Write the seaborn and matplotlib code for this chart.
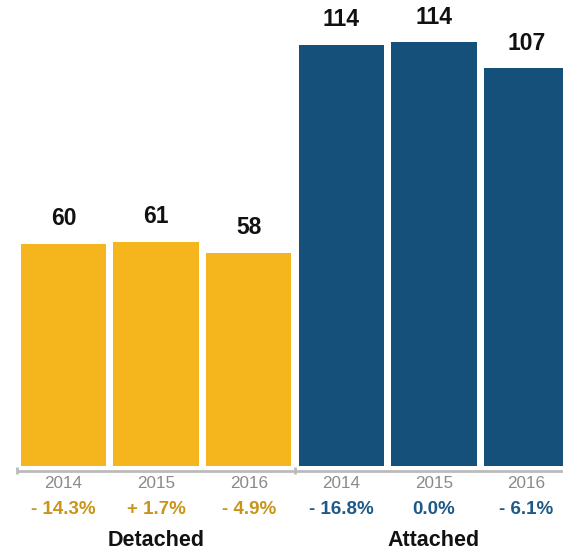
import numpy as np
import pandas as pd
import matplotlib
matplotlib.use("Agg")
import matplotlib.pyplot as plt
import seaborn as sns

# datos
groups = ["Detached", "Detached", "Detached", "Attached", "Attached", "Attached"]
years = ["2014", "2015", "2016", "2014", "2015", "2016"]
values = [60.0, 60.5, 57.6, 113.7, 114.4, 107.4]
value_labels = ["60", "61", "58", "114", "114", "107"]
changes = ["- 14.3%", "+ 1.7%", "- 4.9%", "- 16.8%", "0.0%", "- 6.1%"]
group_names = ["Detached", "Attached"]

bar_colors = {"Detached": "#F4B61C", "Attached": "#15507A"}
text_colors = {"Detached": "#C8951A", "Attached": "#1E5A87"}

df = pd.DataFrame({"key": [f"{g} {y}" for g, y in zip(groups, years)],
                   "group": groups, "year": years, "value": values})

sns.set_style("white")
plt.rcParams['font.family'] = ['Liberation Sans', 'DejaVu Sans']

W, H = 563, 554
fig = plt.figure(figsize=(W / 100, H / 100), dpi=100)
ax = fig.add_axes([0, 0, 1, 1])

# escala en píxeles
px_per_unit = 3.705
base_px = 466          # línea base (desde arriba)
x0_px, step_px = 63.5, 92.6

def xd(px):
    return (px - x0_px) / step_px

def yd(py):
    return (base_px - py) / px_per_unit

sns.barplot(data=df, x="key", y="value", hue="group", palette=bar_colors,
            width=85.5 / step_px, dodge=False, legend=False, ax=ax,
            saturation=1, order=df["key"], linewidth=0)

ax.set_xlim(xd(0), xd(W))
ax.set_ylim(yd(H), yd(0))
ax.axis("off")

# etiquetas de valor
for i, (v, lab) in enumerate(zip(values, value_labels)):
    ax.text(i, v + 18.5 / px_per_unit, lab, ha="center", va="baseline",
            fontsize=16.5, fontweight="bold", color="#111111")

# línea de eje con marcas en los extremos
axis_col = "#BBBBBB"
for a, b in [(17, 295), (295, 563)]:
    ax.plot([xd(a), xd(b)], [yd(471), yd(471)], color=axis_col, lw=2,
            solid_capstyle="butt", clip_on=False)
for t in [17, 295]:
    ax.plot([xd(t), xd(t)], [yd(467), yd(474)], color=axis_col, lw=2,
            solid_capstyle="butt", clip_on=False)

# años y variaciones
for i, (g, yr, ch) in enumerate(zip(groups, years, changes)):
    ax.text(i, yd(484), yr, ha="center", va="center", fontsize=12.3,
            color="#8A8A8A")
    ax.text(i, yd(510), ch, ha="center", va="center", fontsize=13.5,
            fontweight="bold", color=text_colors[g])

# nombres de grupo
for k, name in enumerate(group_names):
    ax.text(1 + 3 * k, yd(540), name, ha="center", va="center",
            fontsize=15.5, fontweight="bold", color="#111111")

fig.savefig("out.png", dpi=100, facecolor="white")
